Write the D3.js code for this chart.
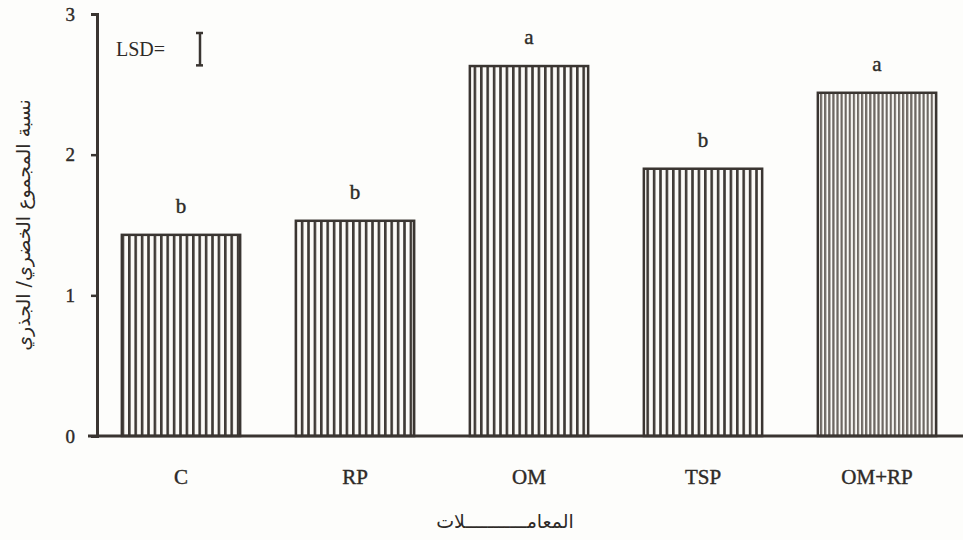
<!DOCTYPE html>
<html>
<head>
<meta charset="utf-8">
<script src="https://cdn.jsdelivr.net/npm/d3@7"></script>
<style>
  body { margin: 0; background: #fdfdfb; }
  svg { display: block; }
  text { font-family: "Liberation Serif", "DejaVu Serif", serif; fill: #2e2a27; }
</style>
</head>
<body>
<div id="chart"></div>
<script>
// treatments and shoot/root ratio
const treatments = ["C", "RP", "OM", "TSP", "OM+RP"];
const ratios = [1.43, 1.53, 2.63, 1.90, 2.44];
const letters = ["b", "b", "a", "b", "a"];
const yTicks = [0, 1, 2, 3];
const lsd = 0.23;

const width = 963;
const height = 540;
const ink = "#3a3531";

const svg = d3
  .select("#chart")
  .append("svg")
  .attr("width", width)
  .attr("height", height);

const x = d3
  .scaleBand()
  .domain(treatments)
  .range([94, 964])
  .paddingInner(0.32)
  .paddingOuter(0.16);

const y = d3.scaleLinear().domain([0, 3]).range([436, 14]);

// stripe patterns, the last bar has finer lines
const defs = svg.append("defs");
function stripes(id, step, lineW, color) {
  const p = defs
    .append("pattern")
    .attr("id", id)
    .attr("patternUnits", "userSpaceOnUse")
    .attr("width", step)
    .attr("height", 10);
  p.append("rect").attr("width", step).attr("height", 10).attr("fill", "#fbfaf7");
  p.append("rect")
    .attr("x", 0)
    .attr("width", lineW)
    .attr("height", 10)
    .attr("fill", color);
}
stripes("coarse", 6.4, 2.6, "#3f3a36");
stripes("fine", 4.1, 2.2, "#6e6863");

const bars = svg.append("g");
bars
  .selectAll("rect")
  .data(treatments)
  .join("rect")
  .attr("x", (d) => x(d))
  .attr("y", (d, i) => y(ratios[i]))
  .attr("width", x.bandwidth())
  .attr("height", (d, i) => y(0) - y(ratios[i]))
  .attr("fill", (d, i) => (i === 4 ? "url(#fine)" : "url(#coarse)"))
  .attr("stroke", ink)
  .attr("stroke-width", 2.5);

// significance letters
svg
  .append("g")
  .selectAll("text")
  .data(treatments)
  .join("text")
  .attr("x", (d) => x(d) + x.bandwidth() / 2)
  .attr("y", (d, i) => y(ratios[i]) - 22)
  .attr("text-anchor", "middle")
  .style("font-size", "21px")
  .style("stroke", "#2e2a27")
  .style("stroke-width", "0.4px")
  .text((d, i) => letters[i]);

// x axis
const xAxis = svg
  .append("g")
  .attr("transform", `translate(0,${y(0)})`)
  .call(d3.axisBottom(x).tickSize(0).tickPadding(33));
xAxis.select(".domain").remove();
xAxis
  .selectAll("text")
  .style("font-family", "Liberation Serif, serif")
  .style("font-size", "21px")
  .style("stroke", "#2e2a27")
  .style("stroke-width", "0.4px")
  .attr("fill", "#2e2a27");
svg
  .append("line")
  .attr("x1", 88)
  .attr("x2", width)
  .attr("y1", y(0))
  .attr("y2", y(0))
  .attr("stroke", ink)
  .attr("stroke-width", 3);

// y axis
const yAxis = svg
  .append("g")
  .attr("transform", "translate(97,0)")
  .call(d3.axisLeft(y).tickValues(yTicks).tickFormat(d3.format("d")).tickSize(6).tickPadding(16));
yAxis.select(".domain").attr("stroke", ink).attr("stroke-width", 3);
yAxis.selectAll(".tick line").attr("stroke", ink).attr("stroke-width", 2.5);
yAxis
  .selectAll("text")
  .style("font-family", "Liberation Serif, serif")
  .style("font-size", "19px")
  .style("stroke", "#2e2a27")
  .style("stroke-width", "0.4px")
  .attr("fill", "#2e2a27");

// LSD marker
const lsdTop = 33;
const lsdBottom = lsdTop + (y(0) - y(lsd));
svg
  .append("text")
  .attr("x", 116)
  .attr("y", 56)
  .style("font-size", "20px")
  .text("LSD=");
const lsdG = svg.append("g").attr("stroke", ink).attr("stroke-width", 2.5);
lsdG.append("line").attr("x1", 200).attr("x2", 200).attr("y1", lsdTop).attr("y2", lsdBottom);
lsdG.append("line").attr("x1", 196).attr("x2", 203).attr("y1", lsdTop).attr("y2", lsdTop);
lsdG.append("line").attr("x1", 196).attr("x2", 203).attr("y1", lsdBottom).attr("y2", lsdBottom);

// axis titles (Arabic)
svg
  .append("text")
  .attr("transform", `translate(30,${y(1.5)}) rotate(-90)`)
  .attr("text-anchor", "middle")
  .style("font-family", "DejaVu Sans, Noto Sans, sans-serif")
  .style("font-size", "19px")
  .attr("direction", "rtl")
  .text("نسبة المجموع الخضري/ الجذري");

svg
  .append("text")
  .attr("x", 505)
  .attr("y", 528)
  .attr("text-anchor", "middle")
  .style("font-family", "DejaVu Sans, Noto Sans, sans-serif")
  .style("font-size", "19px")
  .attr("direction", "rtl")
  .text("المعامـــــــــــلات");
</script>
</body>
</html>
